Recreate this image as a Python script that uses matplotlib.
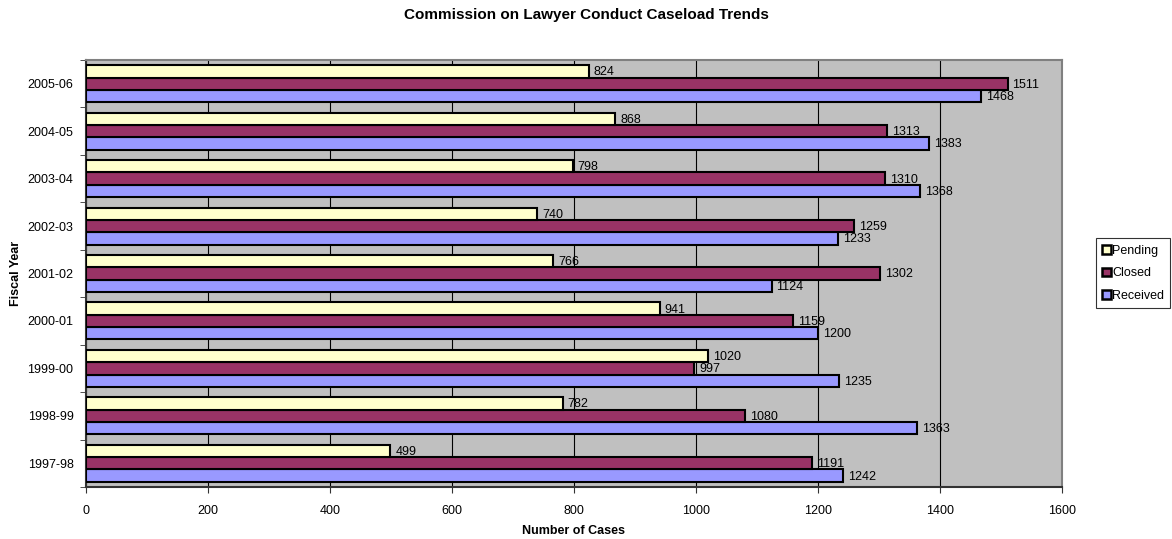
import matplotlib
matplotlib.use("Agg")
import matplotlib.pyplot as plt
import numpy as np
from matplotlib.patches import Patch

plt.rcParams['font.family'] = ['Liberation Sans', 'DejaVu Sans']

years = ["1997-98", "1998-99", "1999-00", "2000-01", "2001-02",
         "2002-03", "2003-04", "2004-05", "2005-06"]
pending = [499, 782, 1020, 941, 766, 740, 798, 868, 824]
closed = [1191, 1080, 997, 1159, 1302, 1259, 1310, 1313, 1511]
received = [1242, 1363, 1235, 1200, 1124, 1233, 1368, 1383, 1468]

series = [("Received", received, "#9999FF"),
          ("Closed", closed, "#993366"),
          ("Pending", pending, "#FFFFCC")]

fig = plt.figure(figsize=(11.72, 5.39), dpi=100)
ax = fig.add_axes([0.0734, 0.0965, 0.8326, 0.7922])
ax.set_facecolor("#C0C0C0")

y = np.arange(len(years))
h = 0.26
offsets = [-h, 0, h]
for (name, vals, col), off in zip(series, offsets):
    ax.barh(y + off, vals, height=h, color=col, edgecolor="black",
            linewidth=1.5, label=name, zorder=3)
    for yi, v in zip(y, vals):
        ax.text(v + 8, yi + off - 0.02, str(v), va="center", ha="left",
                fontsize=9, color="black", zorder=4)

ax.set_xlim(0, 1600)
ax.set_ylim(-0.5, len(years) - 0.5)
ax.set_xticks(np.arange(0, 1601, 200))
ax.xaxis.grid(True, color="black", linewidth=0.8, zorder=1)
ax.set_axisbelow(True)
ax.set_yticks(y)
ax.set_yticklabels(years, fontsize=9)
ax.set_yticks(np.arange(-0.5, len(years), 1), minor=True)
ax.tick_params(axis="y", which="major", length=0, pad=9)
ax.tick_params(axis="y", which="minor", length=4, direction="out", color="#333333")
ax.tick_params(axis="x", labelsize=9, length=4, direction="out", color="#333333", pad=9)

for s in ["top", "right"]:
    ax.spines[s].set_color("#808080")
    ax.spines[s].set_linewidth(1.5)
for s in ["left", "bottom"]:
    ax.spines[s].set_color("#333333")
    ax.spines[s].set_linewidth(1.5)

ax.set_xlabel("Number of Cases", fontsize=9, fontweight="bold", labelpad=6)
ax.set_ylabel("Fiscal Year", fontsize=9, fontweight="bold", labelpad=4)
fig.text(0.5, 0.972, "Commission on Lawyer Conduct Caseload Trends",
         ha="center", va="center", fontsize=11, fontweight="bold")

handles = [Patch(facecolor=c, edgecolor="black", linewidth=1.8, label=n)
           for n, _, c in series[::-1]]
leg = fig.legend(handles=handles, loc="center right",
                 bbox_to_anchor=(0.9985, 0.493), fontsize=9,
                 handlelength=0.7, handleheight=0.7, handletextpad=0.1,
                 borderpad=0.5, labelspacing=0.85, fancybox=False,
                 frameon=True, edgecolor="black", borderaxespad=0)
leg.get_frame().set_linewidth(0.8)

fig.savefig("out.png", dpi=100)
